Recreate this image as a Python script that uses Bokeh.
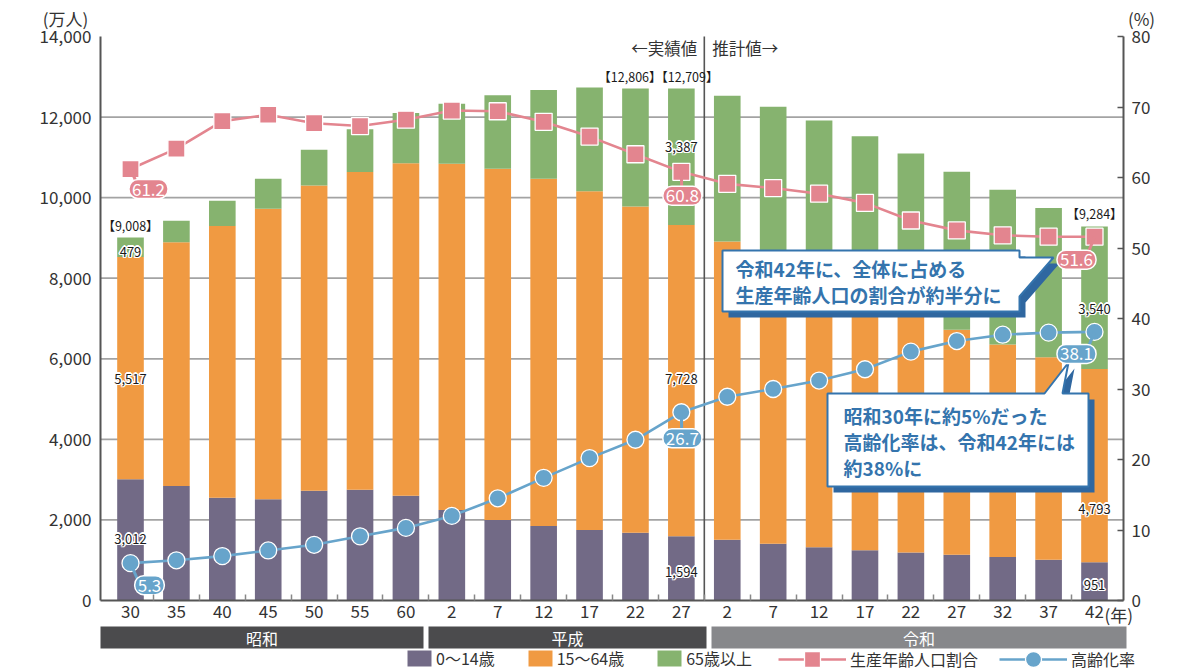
from bokeh.plotting import figure
from bokeh.models import (Range1d, LinearAxis, FixedTicker, NumeralTickFormatter,
                          ColumnDataSource, Legend, LegendItem)
from bokeh.core.properties import value
from bokeh.embed import file_html
from bokeh.resources import INLINE

FONT = "Noto Sans CJK JP"

# ---------------- data ----------------
years = ["30", "35", "40", "45", "50", "55", "60",
         "2", "7", "12", "17", "22", "27",
         "2", "7", "12", "17", "22", "27", "32", "37", "42"]
eras = ["昭和", "平成", "令和"]
pop_0_14 = [3012, 2843, 2553, 2515, 2722, 2751, 2603,
            2249, 2001, 1847, 1752, 1680, 1594,
            1507, 1407, 1321, 1246, 1194, 1138, 1077, 1012, 951]
pop_15_64 = [5517, 6047, 6744, 7212, 7581, 7883, 8251,
             8590, 8716, 8622, 8409, 8103, 7728,
             7406, 7170, 6875, 6494, 5978, 5584, 5275, 5028, 4793]
pop_65 = [479, 535, 624, 739, 887, 1065, 1247,
          1489, 1826, 2204, 2576, 2925, 3387,
          3619, 3677, 3716, 3782, 3921, 3919, 3841, 3704, 3540]
working_ratio = [61.2, 64.1, 68.0, 68.9, 67.7, 67.3, 68.2,
                 69.5, 69.4, 67.9, 65.8, 63.3, 60.8,
                 59.1, 58.5, 57.7, 56.4, 53.9, 52.5, 51.8, 51.6, 51.6]
aging_rate = [5.3, 5.7, 6.3, 7.1, 7.9, 9.1, 10.3,
              12.0, 14.5, 17.4, 20.2, 22.8, 26.7,
              28.9, 30.0, 31.2, 32.8, 35.3, 36.8, 37.7, 38.0, 38.1]
total_shown_idx = [0, 11, 12, 21]
total_shown = [9008, 12806, 12709, 9284]
left_ticks = [0, 2000, 4000, 6000, 8000, 10000, 12000, 14000]
right_ticks = [0, 10, 20, 30, 40, 50, 60, 70, 80]

n = len(years)
xs = list(range(n))

W, H = 1183, 672

# ---------------- layout helpers (pixel positions -> plot units) ----------------
def DX(px):
    return (px - 130.0) / 45.905

def DY(py):
    return (600.0 - py) * 14000.0 / 564.0

def DP(py):
    return (600.0 - py) * 80.0 / 564.0

C_KID = "#726a86"
C_WORK = "#f09a42"
C_OLD = "#86b36f"
C_PINK = "#e3858f"
C_BLUE = "#67a4cb"
C_AX = "#555555"
C_TXT = "#333333"
C_CALL = "#3474ad"
C_SHADOW = "#2f67a0"

p = figure(width=W, height=H,
           x_range=Range1d(DX(0), DX(W)), y_range=Range1d(DY(H), DY(0)),
           x_axis_type=None, y_axis_type=None,
           toolbar_location=None, output_backend="svg", min_border=0)
p.outline_line_color = None
p.background_fill_color = "white"
p.border_fill_color = "white"
p.extra_y_ranges = {"pct": Range1d(DP(H), DP(0))}

# ---------------- axes ----------------
yl = LinearAxis(fixed_location=DX(100), bounds=(0, 14000),
                ticker=FixedTicker(ticks=left_ticks),
                formatter=NumeralTickFormatter(format="0,0"))
yr = LinearAxis(y_range_name="pct", fixed_location=DX(1123), bounds=(0, 80),
                ticker=FixedTicker(ticks=right_ticks))
xa = LinearAxis(fixed_location=0, bounds=(DX(100), DX(1123)),
                ticker=FixedTicker(ticks=xs, minor_ticks=[i + 0.5 for i in range(n - 1)]),
                major_label_overrides={i: years[i] for i in xs})
for ax in (yl, yr, xa):
    ax.axis_line_color = C_AX
    ax.axis_line_width = 2
    ax.major_label_text_font = FONT
    ax.major_label_text_font_size = "17px"
    ax.major_label_text_color = C_TXT
    ax.major_tick_out = 0
    ax.minor_tick_out = 0
    ax.minor_tick_in = 0
yl.major_tick_in = 0
yl.major_label_standoff = 9
yr.major_tick_in = 6
yr.major_tick_line_color = C_AX
yr.major_tick_line_width = 1.5
yr.major_label_standoff = 8
xa.major_tick_in = 0
xa.minor_tick_in = 6
xa.minor_tick_line_color = "#888888"
xa.minor_tick_line_width = 1.5
xa.major_label_standoff = 4
p.add_layout(yl, "left")
p.add_layout(yr, "right")
p.add_layout(xa, "below")

# ---------------- grid lines ----------------
grid_vals = [t for t in left_ticks if 0 < t < 14000]
p.segment(x0=[DX(100)] * len(grid_vals), x1=[DX(1123)] * len(grid_vals),
          y0=grid_vals, y1=grid_vals, line_color="#a3a3a3", line_width=1.8)

# ---------------- bars ----------------
src = ColumnDataSource(dict(x=xs, a=pop_0_14, b=pop_15_64, c=pop_65))
bars = p.vbar_stack(["a", "b", "c"], x="x", width=0.58, source=src,
                    color=[C_KID, C_WORK, C_OLD], line_color=None)

# divider actual / projection
p.segment(x0=[12.5], x1=[12.5], y0=[0], y1=[14000], line_color=C_AX, line_width=1.6)
p.text(x=[12.5], y=[DY(47)], text=["←実績値"], x_offset=-7, text_align="right",
       text_baseline="middle", text_font=value(FONT), text_font_size="16.5px", text_color=C_TXT)
p.text(x=[12.5], y=[DY(47)], text=["推計値→"], x_offset=8, text_align="left",
       text_baseline="middle", text_font=value(FONT), text_font_size="16.5px", text_color=C_TXT)

# ---------------- lines ----------------
l1 = p.line(xs, working_ratio, y_range_name="pct", line_color=C_PINK, line_width=2.6)
m1 = p.scatter(xs, working_ratio, y_range_name="pct", marker="square", size=17,
               fill_color=C_PINK, line_color="white", line_width=1.3)
l2 = p.line(xs, aging_rate, y_range_name="pct", line_color=C_BLUE, line_width=2.6)
m2 = p.scatter(xs, aging_rate, y_range_name="pct", marker="circle", size=17,
               fill_color=C_BLUE, line_color="white", line_width=1.3)

# ---------------- value labels ----------------
def halo_text(x, y, t, size="13px"):
    for dx, dy in [(-1, -1), (1, -1), (-1, 1), (1, 1), (0, -1.4), (0, 1.4), (-1.4, 0), (1.4, 0)]:
        p.text(x=x, y=y, text=t, x_offset=dx, y_offset=dy, text_align="center",
               text_baseline="middle", text_font=value(FONT), text_font_size=size,
               text_color="white")
    p.text(x=x, y=y, text=t, text_align="center", text_baseline="middle",
           text_font=value(FONT), text_font_size=size, text_color="#1a1a1a")

lab_x = [0, 0, 0, 12, 12, 12, 21, 21, 21]
lab_t = [f"{pop_65[0]:,}", f"{pop_15_64[0]:,}", f"{pop_0_14[0]:,}",
         f"{pop_65[12]:,}", f"{pop_15_64[12]:,}", f"{pop_0_14[12]:,}",
         f"{pop_65[21]:,}", f"{pop_15_64[21]:,}", f"{pop_0_14[21]:,}"]
lab_y = [DY(251), DY(378), DY(538), DY(146), DY(378), DY(571), DY(308), DY(508), DY(584)]
halo_text(lab_x, lab_y, lab_t)

tot_t = [f"【{total_shown[0]:,}】",
         f"【{total_shown[1]:,}】【{total_shown[2]:,}】",
         f"【{total_shown[3]:,}】"]
tot_x = [0, 11.5, 21]
tot_y = [DY(225), DY(76), DY(213)]
p.text(x=tot_x, y=tot_y, text=tot_t, text_align="center", text_baseline="middle",
       text_font=value(FONT), text_font_size="12.5px", text_color="#1a1a1a")

# ---------------- callouts ----------------
def callout(poly, shadow=6):
    xsp = [DX(a) for a, b in poly]
    ysp = [DY(b) for a, b in poly]
    p.patch([DX(a + shadow) for a, b in poly], [DY(b + shadow) for a, b in poly],
            fill_color=C_SHADOW, line_color=None)
    p.patch(xsp, ysp, fill_color="white", line_color=C_CALL, line_width=2)

callout([(722, 250), (1019, 250), (1019, 257), (1053, 257), (1019, 296),
         (1019, 311), (722, 311)])
callout([(827, 393), (1044, 393), (1068, 362), (1062, 393), (1088, 393),
         (1088, 486), (827, 486)])
box_text = ["令和42年に、全体に占める", "生産年齢人口の割合が約半分に",
            "昭和30年に約5%だった", "高齢化率は、令和42年には", "約38%に"]
p.text(x=[DX(735), DX(735), DX(843), DX(843), DX(843)],
       y=[DY(268), DY(294), DY(415), DY(441), DY(467)],
       text=box_text, text_align="left", text_baseline="middle",
       text_font=value(FONT), text_font_size="19px", text_font_style="bold",
       text_color=C_CALL)

# ---------------- pills ----------------
def pills(idx, vals, offs, color):
    # small pointer from the marker to the pill
    p.segment(x0=idx, y0=vals, x1=[i + DX(130 + ox * 0.4) for i, (ox, oy) in zip(idx, offs)],
              y1=[v - oy * 80.0 / 564.0 * 0.8 for v, (ox, oy) in zip(vals, offs)],
              y_range_name="pct", line_color=color, line_width=3)
    p.text(x=[i + DX(130 + ox) for i, (ox, oy) in zip(idx, offs)],
           y=[v for v in vals], y_range_name="pct",
           y_offset=[oy for ox, oy in offs],
           text=[f"{v:.1f}" for v in vals], text_align="center", text_baseline="middle",
           text_font=value(FONT), text_font_size="17px", text_color="white",
           background_fill_color=color, border_line_color="white", border_line_width=1.5,
           padding=3, border_radius=9)

pills([0, 12, 21], [working_ratio[0], working_ratio[12], working_ratio[21]],
      [(18, 20), (1, 24), (-18, 23)], C_PINK)
pills([0, 12, 21], [aging_rate[0], aging_rate[12], aging_rate[21]],
      [(19, 22), (1, 26), (-18, 22)], C_BLUE)

# ---------------- axis titles ----------------
p.text(x=[DX(65)], y=[DY(18)], text=["(万人)"], text_align="center", text_baseline="middle",
       text_font=value(FONT), text_font_size="17px", text_color=C_TXT)
p.text(x=[DX(1141)], y=[DY(18)], text=["(%)"], text_align="center", text_baseline="middle",
       text_font=value(FONT), text_font_size="17px", text_color=C_TXT)
p.text(x=[DX(1104)], y=[DY(614)], text=["(年)"], text_align="left", text_baseline="middle",
       text_font=value(FONT), text_font_size="17px", text_color=C_TXT)

# ---------------- era bands ----------------
era_l = [DX(100), DX(428), DX(711)]
era_r = [DX(423), DX(706), DX(1126)]
p.quad(left=era_l, right=era_r, top=[DY(626)] * 3, bottom=[DY(648)] * 3,
       fill_color=["#4b4b4d", "#4b4b4d", "#87888b"], line_color=None)
p.text(x=[(a + b) / 2 for a, b in zip(era_l, era_r)], y=[DY(637)] * 3, text=eras,
       text_align="center", text_baseline="middle", text_font=value(FONT),
       text_font_size="16px", text_color="white")

# ---------------- legends ----------------
legA = Legend(items=[LegendItem(label="0～14歳", renderers=[bars[0]]),
                     LegendItem(label="15～64歳", renderers=[bars[1]]),
                     LegendItem(label="65歳以上", renderers=[bars[2]])],
              orientation="horizontal", location=(404, 2), glyph_width=30, glyph_height=20,
              label_standoff=2, spacing=30)
legB = Legend(items=[LegendItem(label="生産年齢人口割合", renderers=[l1, m1]),
                     LegendItem(label="高齢化率", renderers=[l2, m2])],
              orientation="horizontal", location=(778, -7), glyph_width=68, glyph_height=40,
              label_standoff=4, spacing=21)
for lg in (legA, legB):
    lg.padding = 0
    lg.margin = 0
    lg.border_line_color = None
    lg.background_fill_alpha = 0
    lg.label_text_font = FONT
    lg.label_text_font_size = "16px"
    lg.label_text_color = C_TXT
    p.add_layout(lg)

open("out.html", "w").write(file_html(p, INLINE))
